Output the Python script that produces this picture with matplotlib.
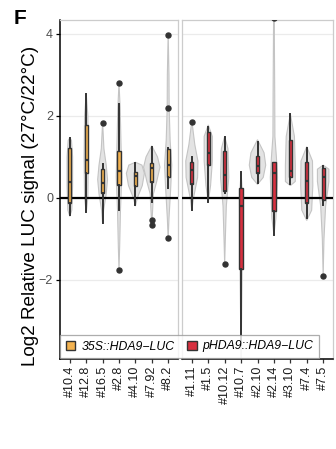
import matplotlib.pyplot as plt
from matplotlib.patches import Patch

plt.rcParams['font.family'] = ['Liberation Sans', 'DejaVu Sans']

# Lines per construct (left panel: 35S, right panel: pHDA9)
lines_35s = ['#10.4', '#12.8', '#16.5', '#2.8', '#4.10', '#7.92', '#8.2']
lines_phda9 = ['#1.11', '#1.5', '#10.12', '#10.7', '#2.10', '#2.14', '#3.10', '#7.4', '#7.5']

# box statistics, log2(27C/22C)
q1_35s = [-0.12, 0.61, 0.12, 0.32, 0.30, 0.39, 0.51]
med_35s = [0.39, 0.93, 0.37, 0.66, 0.54, 0.73, 0.80]
q3_35s = [1.22, 1.78, 0.71, 1.15, 0.63, 0.85, 1.19]
lo_35s = [-0.41, -0.34, -0.61, -0.29, -0.17, -0.10, 0.24]
hi_35s = [1.46, 2.54, 0.83, 2.29, 0.85, 1.25, 1.21]
out_35s = [[], [], [1.83], [2.80, -1.75], [], [-0.53, -0.65], [3.98, 2.19, -0.98]]

q1_phda9 = [0.34, 0.80, 0.17, -1.73, 0.60, -0.31, 0.52, -0.13, -0.05]
med_phda9 = [0.68, 1.10, 0.56, -0.19, 0.77, 0.60, 0.66, 0.41, 0.52]
q3_phda9 = [0.88, 1.61, 1.15, 0.25, 1.02, 0.88, 1.41, 0.87, 0.74]
lo_phda9 = [-0.29, -0.10, 0.12, -3.60, 0.37, -0.90, 0.34, -0.49, -0.17]
hi_phda9 = [1.00, 1.73, 1.49, 0.63, 1.37, 0.88, 2.05, 1.21, 0.78]
out_phda9 = [[1.86], [], [-1.61], [], [], [4.40], [], [], [-1.90]]

# violin outlines: (value, half width in category units)
violin_35s = [
    [(-0.45, 0), (-0.3, 0.12), (0.3, 0.17), (1.0, 0.17), (1.4, 0.1), (1.47, 0)],
    [(-0.36, 0), (0.0, 0.1), (1.0, 0.13), (2.0, 0.1), (2.55, 0)],
    [(-0.62, 0), (-0.3, 0.06), (0.1, 0.22), (0.45, 0.3), (0.8, 0.22), (1.2, 0.08), (1.85, 0)],
    [(-1.75, 0), (-1.2, 0.04), (-0.3, 0.09), (0.5, 0.17), (1.2, 0.13), (2.2, 0.07), (2.8, 0)],
    [(-0.2, 0), (0.0, 0.12), (0.3, 0.42), (0.6, 0.55), (0.8, 0.4), (0.87, 0)],
    [(-0.7, 0), (-0.3, 0.05), (0.1, 0.1), (0.4, 0.3), (0.75, 0.5), (1.0, 0.35), (1.27, 0)],
    [(-1.0, 0), (-0.5, 0.05), (0.2, 0.15), (0.8, 0.22), (1.4, 0.12), (2.2, 0.06), (3.0, 0.05), (4.0, 0)],
]
violin_phda9 = [
    [(-0.3, 0), (0.0, 0.1), (0.5, 0.35), (0.9, 0.37), (1.3, 0.18), (1.88, 0)],
    [(-0.1, 0), (0.3, 0.14), (0.9, 0.25), (1.5, 0.25), (1.78, 0)],
    [(-1.62, 0), (-1.0, 0.04), (-0.2, 0.1), (0.5, 0.25), (1.2, 0.2), (1.5, 0)],
    [(-3.9, 0), (-2.0, 0.06), (0.0, 0.1), (0.63, 0)],
    [(0.33, 0), (0.5, 0.35), (0.8, 0.5), (1.1, 0.4), (1.42, 0)],
    [(-0.9, 0), (-0.5, 0.12), (0.5, 0.22), (1.0, 0.15), (1.5, 0.06), (2.5, 0.05), (4.4, 0.02)],
    [(0.3, 0), (0.4, 0.3), (0.8, 0.3), (1.5, 0.25), (2.05, 0)],
    [(-0.55, 0), (-0.3, 0.3), (0.3, 0.37), (0.9, 0.35), (1.25, 0)],
    [(-1.9, 0), (-1.0, 0.05), (-0.2, 0.15), (0.4, 0.35), (0.7, 0.35), (0.8, 0)],
]

col_35s = '#F3B24F'
col_phda9 = '#D7303F'
dark = '#333333'

fig = plt.figure(figsize=(3.36, 4.49), dpi=100)
ax1 = fig.add_axes([60 / 336, 90 / 449, 118 / 336, 339 / 449])
ax2 = fig.add_axes([182 / 336, 90 / 449, 151 / 336, 339 / 449], sharey=ax1)


def draw_panel(ax, names, q1, med, q3, lo, hi, outs, violins, color):
    pos = list(range(len(names)))
    for p, prof in zip(pos, violins):
        ys = [v for v, w in prof] + [v for v, w in prof[::-1]]
        xs = [p - w for v, w in prof] + [p + w for v, w in prof[::-1]]
        ax.fill(xs, ys, facecolor='#e3e3e3', edgecolor='#c4c4c4', lw=0.8, zorder=2)
    stats = [dict(q1=a, med=m, q3=b, whislo=l, whishi=h, fliers=f)
             for a, m, b, l, h, f in zip(q1, med, q3, lo, hi, outs)]
    ax.bxp(stats, positions=pos, widths=0.2, patch_artist=True, showcaps=False,
           boxprops=dict(facecolor=color, edgecolor=dark, lw=1.0),
           whiskerprops=dict(color=dark, lw=1.4),
           medianprops=dict(color=dark, lw=1.6),
           flierprops=dict(marker='o', markersize=3.6, markerfacecolor=dark,
                           markeredgecolor=dark),
           zorder=4, manage_ticks=False)
    ax.axhline(0, color='black', lw=1.6, zorder=3)
    ax.set_xlim(-0.6, len(names) - 0.4)
    ax.set_xticks(pos)
    ax.set_xticklabels(names, rotation=90, fontsize=9, color='#1a1a1a')
    ax.set_yticks([-2, 0, 2, 4])
    ax.grid(axis='y', color='#ebebeb', lw=0.9, zorder=0)
    ax.set_axisbelow(True)
    for s in ax.spines.values():
        s.set_color('#cccccc')
        s.set_linewidth(0.9)
    ax.spines['bottom'].set_color('black')
    ax.spines['bottom'].set_linewidth(1.1)
    ax.tick_params(axis='x', length=3, width=0.9, color='#333333', pad=2)


draw_panel(ax1, lines_35s, q1_35s, med_35s, q3_35s, lo_35s, hi_35s, out_35s,
           violin_35s, col_35s)
draw_panel(ax2, lines_phda9, q1_phda9, med_phda9, q3_phda9, lo_phda9, hi_phda9,
           out_phda9, violin_phda9, col_phda9)

ax1.set_ylim(-3.93, 4.34)
ax1.spines['left'].set_color('black')
ax1.spines['left'].set_linewidth(1.1)
ax1.set_yticklabels(['\u22122', '0', '2', '4'])
ax1.tick_params(axis='y', length=3, width=0.9, labelsize=9, labelcolor='#4d4d4d', pad=2)
ax2.tick_params(axis='y', left=False, labelleft=False)

handles = [Patch(facecolor=col_35s, edgecolor=dark, lw=1.0, label='35S::HDA9\u2212LUC'),
           Patch(facecolor=col_phda9, edgecolor=dark, lw=1.0, label='pHDA9::HDA9\u2212LUC')]
leg = fig.legend(handles=handles, loc='lower left', bbox_to_anchor=(60 / 336, 91 / 449),
                 ncol=2, frameon=True, fancybox=False, edgecolor='#999999',
                 prop=dict(style='italic', size=8.8), handlelength=0.8,
                 handleheight=0.8, handletextpad=0.5, columnspacing=1.0,
                 borderpad=0.45, borderaxespad=0)
leg.get_frame().set_linewidth(0.9)
leg.set_zorder(10)

fig.text(31 / 336, 0.542, 'Log2 Relative LUC signal (27\u00b0C/22\u00b0C)', rotation=90,
         ha='center', va='center', fontsize=13.6)
fig.text(14 / 336, 1 - 19 / 449, 'F', fontsize=15, fontweight='bold', ha='left', va='center')

fig.savefig('out.png', dpi=100)
